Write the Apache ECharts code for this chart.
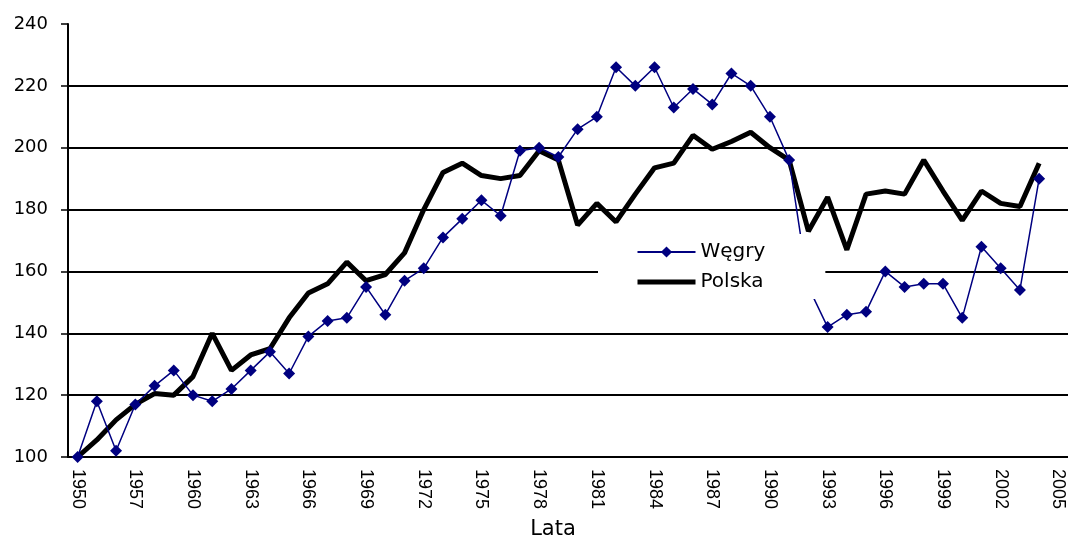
<!DOCTYPE html>
<html>
<head>
<meta charset="utf-8">
<script src="https://cdn.jsdelivr.net/npm/echarts@6/dist/echarts.min.js"></script>
<style>
  html, body { margin: 0; padding: 0; background: #fff; }
  #chart { width: 1068px; height: 545px; }
</style>
</head>
<body>
<div id="chart"></div>
<script>
(function() {
  // 1950, then 1955..2005 (last category has no data)
  var years = ['1950'];
  for (var y = 1955; y <= 2005; y++) {
    years.push(String(y));
  }

  var wegry = [
    100, 118, 102, 117, 123, 128, 120, 118, 122, 128,
    134, 127, 139, 144, 145, 155, 146, 157, 161, 171,
    177, 183, 178, 199, 200, 197, 206, 210, 226, 220,
    226, 213, 219, 214, 224, 220, 210, 196, 155, 142,
    146, 147, 160, 155, 156, 156, 145, 168, 161, 154,
    190, null
  ];

  var polska = [
    100, 105.5, 112, 117, 120.5, 120, 126, 140, 128, 133,
    135, 145, 153, 156, 163, 157, 159, 166, 180, 192,
    195, 191, 190, 191, 199, 196, 175, 182, 176, 185,
    193.5, 195, 204, 199.5, 202, 205, 200, 196, 173, 184,
    167, 185, 186, 185, 196, 186, 176.5, 186, 182, 181,
    195, null
  ];

  var yTicks = { min: 100, max: 240, step: 20 };

  var chart = echarts.init(document.getElementById('chart'));

  var option = {
    animation: false,
    backgroundColor: '#fff',
    grid: { left: 68, right: -4, top: 24, bottom: 85 },
    legend: {
      data: [
        { name: 'Węgry' },
        { name: 'Polska', itemStyle: { opacity: 0 }, lineStyle: { width: 5, color: '#000' } }
      ],
      orient: 'vertical',
      left: 598,
      top: 234,
      backgroundColor: '#fff',
      padding: [8, 60, 7, 37],
      itemWidth: 58,
      itemHeight: 14,
      itemGap: 10,
      textStyle: {
        fontFamily: 'DejaVu Sans',
        fontSize: 20,
        lineHeight: 20,
        color: '#000'
      }
    },
    xAxis: {
      type: 'category',
      data: years,
      boundaryGap: true,
      name: 'Lata',
      nameLocation: 'middle',
      nameGap: 62,
      nameTextStyle: {
        fontFamily: 'DejaVu Sans',
        fontSize: 21,
        color: '#000',
        padding: [0, 30, 0, 0]
      },
      axisLine: { lineStyle: { color: '#000', width: 2 } },
      axisTick: { interval: 0, length: 5, lineStyle: { color: '#000', width: 1.5 } },
      axisLabel: {
        interval: 2,
        rotate: -90,
        margin: 12,
        fontFamily: 'Liberation Sans',
        fontSize: 18,
        color: '#000'
      },
      splitLine: { show: false }
    },
    yAxis: {
      type: 'value',
      min: yTicks.min,
      max: yTicks.max,
      interval: yTicks.step,
      axisLine: { show: true, lineStyle: { color: '#000', width: 2 } },
      axisTick: { show: true, length: 7, lineStyle: { color: '#000', width: 1.5 } },
      axisLabel: {
        margin: 20,
        fontFamily: 'DejaVu Sans',
        fontSize: 18,
        color: '#000'
      },
      splitLine: {
        show: true,
        showMaxLine: false,
        lineStyle: { color: '#000', width: 1.8 }
      }
    },
    series: [
      {
        name: 'Polska',
        type: 'line',
        data: polska,
        symbol: 'none',
        z: 2,
        lineStyle: { color: '#000', width: 5 },
        itemStyle: { color: '#000' }
      },
      {
        name: 'Węgry',
        type: 'line',
        data: wegry,
        symbol: 'diamond',
        symbolSize: 12,
        z: 3,
        lineStyle: { color: '#000080', width: 1.5 },
        itemStyle: { color: '#000080' }
      }
    ]
  };

  chart.setOption(option);
})();
</script>
</body>
</html>
